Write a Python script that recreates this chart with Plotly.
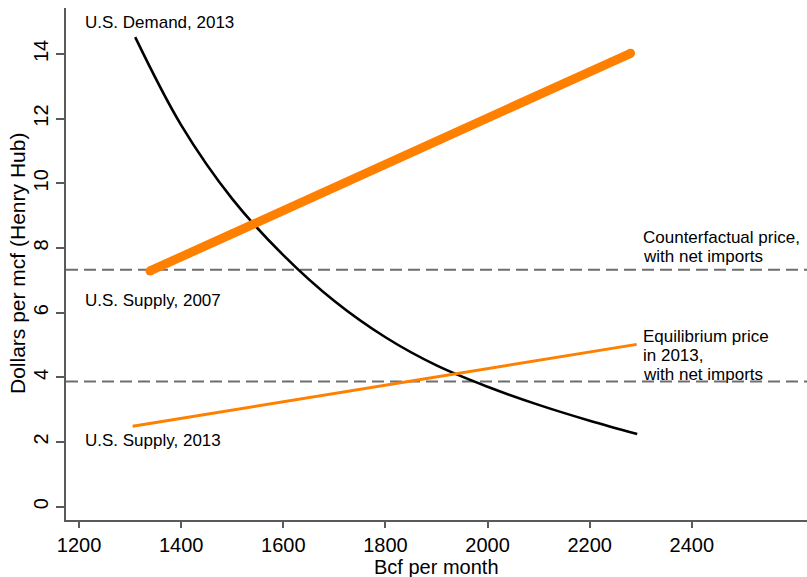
import plotly.graph_objects as go

# Demand curve, 2013 (Bcf per month vs. $/mcf)
demand_q = [1310, 1400, 1500, 1600, 1700, 1800, 1900, 2000, 2100, 2200, 2293]
demand_p = [14.52, 11.80, 9.52, 7.78, 6.36, 5.24, 4.37, 3.71, 3.15, 2.66, 2.25]

# Linear supply schedules (end points)
supply2007_q = [1339, 2280]
supply2007_p = [7.29, 14.02]
supply2013_q = [1305, 2292]
supply2013_p = [2.49, 5.02]

# Reference price levels
counterfactual_price = 7.33
equilibrium_price = 3.87

x_ticks = [1200, 1400, 1600, 1800, 2000, 2200, 2400]
y_ticks = [0, 2, 4, 6, 8, 10, 12, 14]

ORANGE = "#FF8000"
AXIS = "#5a5a5a"
FONT = "Liberation Sans, Arial, sans-serif"

W, H = 807, 577
ML, MR, MT, MB = 66, 0, 8, 57
PW, PH = W - ML - MR, H - MT - MB


def px(x):
    return (x - ML) / PW


def py(y):
    return (H - MB - y) / PH


fig = go.Figure()

fig.add_trace(go.Scatter(
    x=demand_q, y=demand_p, mode="lines",
    line=dict(color="black", width=2.6, shape="spline", smoothing=1.0),
    hoverinfo="skip", showlegend=False))

fig.add_trace(go.Scatter(
    x=supply2007_q, y=supply2007_p, mode="lines+markers",
    line=dict(color=ORANGE, width=9),
    marker=dict(color=ORANGE, size=9, line=dict(width=0)),
    hoverinfo="skip", showlegend=False))

fig.add_trace(go.Scatter(
    x=supply2013_q, y=supply2013_p, mode="lines",
    line=dict(color=ORANGE, width=3),
    hoverinfo="skip", showlegend=False))

for level in (counterfactual_price, equilibrium_price):
    fig.add_shape(type="line", xref="paper", x0=0, x1=1, yref="y", y0=level, y1=level,
                  line=dict(color="#6e6e6e", width=2, dash="12px,6px"), layer="below")

labels = [
    ("U.S. Demand, 2013", 83, 22),
    ("U.S. Supply, 2007", 83, 300),
    ("U.S. Supply, 2013", 83, 440),
    ("Counterfactual price,", 641, 237.5),
    ("with net imports", 641, 256.5),
    ("Equilibrium price", 641, 336.5),
    ("in 2013,", 641, 355.5),
    ("with net imports", 641, 374.5),
]
for text, x, y in labels:
    fig.add_annotation(text=text, xref="paper", yref="paper", x=px(x), y=py(y),
                       xanchor="left", yanchor="middle", showarrow=False,
                       font=dict(family=FONT, size=17, color="black"))

fig.add_annotation(text="Bcf per month", xref="paper", yref="paper",
                   x=0.5, y=py(566.5), xanchor="center", yanchor="middle",
                   showarrow=False, font=dict(family=FONT, size=20, color="black"))
fig.add_annotation(text="Dollars per mcf (Henry Hub)", xref="paper", yref="paper",
                   x=px(17), y=0.5, xanchor="center", yanchor="middle", textangle=-90,
                   showarrow=False, font=dict(family=FONT, size=21, color="black"))

fig.update_layout(
    width=W, height=H,
    margin=dict(l=ML, r=MR, t=MT, b=MB, pad=0),
    paper_bgcolor="white", plot_bgcolor="white",
    font=dict(family=FONT, color="black"),
    xaxis=dict(range=[1174.5, 2625.5], tickvals=x_ticks, ticktext=[str(v) for v in x_ticks],
               showgrid=False, zeroline=False, showline=True, linecolor=AXIS, linewidth=1.5,
               ticks="outside", ticklen=6, tickcolor=AXIS, tickwidth=1.5,
               tickfont=dict(family=FONT, size=20, color="black")),
    yaxis=dict(range=[-0.41, 15.42], tickvals=y_ticks, ticktext=[str(v) for v in y_ticks],
               showgrid=False, zeroline=False, showline=True, linecolor=AXIS, linewidth=1.5,
               ticks="outside", ticklen=8, tickcolor=AXIS, tickwidth=1.5, tickangle=-90,
               tickfont=dict(family=FONT, size=20, color="black")),
)

fig.write_html("out.html")
